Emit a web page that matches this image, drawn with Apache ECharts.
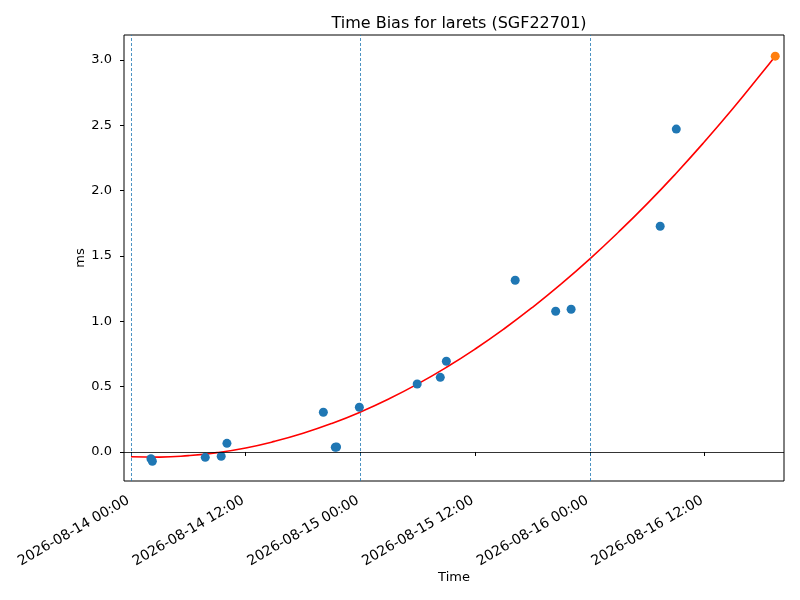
<!DOCTYPE html>
<html>
<head>
<meta charset="utf-8">
<title>Time Bias</title>
<script src="https://cdn.jsdelivr.net/npm/echarts@6.0.0/dist/echarts.min.js"></script>
<style>
	html, body { margin: 0; padding: 0; background: #fff; }
	#chart { width: 800px; height: 600px; }
</style>
</head>
<body>
<div id="chart"></div>
<script>
// measured time bias points (UTC)
var obsTimes = [
	'2026-08-14 02:05', '2026-08-14 02:14', '2026-08-14 07:46', '2026-08-14 09:26',
	'2026-08-14 10:02', '2026-08-14 20:07', '2026-08-14 21:22', '2026-08-14 21:30',
	'2026-08-14 23:53', '2026-08-15 05:56', '2026-08-15 08:21', '2026-08-15 08:59',
	'2026-08-15 16:11', '2026-08-15 20:25', '2026-08-15 22:02', '2026-08-16 07:21',
	'2026-08-16 09:02'
]
var obsBias = [
	-0.051, -0.071, -0.041, -0.033,
	0.066, 0.304, 0.036, 0.038,
	0.342, 0.520, 0.571, 0.694,
	1.314, 1.077, 1.092, 1.727,
	2.470
]
// last (predicted) point
var predTime = ['2026-08-16 19:23']
var predBias = [3.028]
// fitted curve, every 3 hours
var fitTimes = [
	'2026-08-14 00:00', '2026-08-14 03:00', '2026-08-14 06:00', '2026-08-14 09:00',
	'2026-08-14 12:00', '2026-08-14 15:00', '2026-08-14 18:00', '2026-08-14 21:00',
	'2026-08-15 00:00', '2026-08-15 03:00', '2026-08-15 06:00', '2026-08-15 09:00',
	'2026-08-15 12:00', '2026-08-15 15:00', '2026-08-15 18:00', '2026-08-15 21:00',
	'2026-08-16 00:00', '2026-08-16 03:00', '2026-08-16 06:00', '2026-08-16 09:00',
	'2026-08-16 12:00', '2026-08-16 15:00', '2026-08-16 18:00', '2026-08-16 19:23'
]
var fitBias = [
	-0.036, -0.039, -0.028, -0.005,
	0.031, 0.081, 0.143, 0.218,
	0.306, 0.407, 0.521, 0.648,
	0.788, 0.941, 1.107, 1.286,
	1.478, 1.683, 1.900, 2.131,
	2.375, 2.631, 2.901, 3.028
]
var xTickLabels = [
	'2026-08-14 00:00', '2026-08-14 12:00', '2026-08-15 00:00',
	'2026-08-15 12:00', '2026-08-16 00:00', '2026-08-16 12:00'
]
var dayLines = ['2026-08-14 00:00', '2026-08-15 00:00', '2026-08-16 00:00']
var yTicks = [0, 0.5, 1.0, 1.5, 2.0, 2.5, 3.0]

function toMs(s) {
	var p = s.split(/[- :]/).map(Number)
	return Date.UTC(p[0], p[1] - 1, p[2], p[3], p[4])
}
function pad(n) {
	return (n < 10 ? '0' : '') + n
}
function fmt(v) {
	var d = new Date(v)
	return d.getUTCFullYear() + '-' + pad(d.getUTCMonth() + 1) + '-' + pad(d.getUTCDate()) +
		' ' + pad(d.getUTCHours()) + ':' + pad(d.getUTCMinutes())
}
function pairs(ts, vs) {
	return ts.map(function(t, i) { return [toMs(t), vs[i]] })
}

var font = 'DejaVu Sans'
var option = {
	animation: false,
	backgroundColor: '#fff',
	title: {
		text: 'Time Bias for larets (SGF22701)',
		left: 454,
		top: 11,
		textAlign: 'center',
		textStyle: { fontFamily: font, fontSize: 16, fontWeight: 'normal', color: '#000' }
	},
	grid: {
		left: 124,
		right: 16,
		top: 35,
		bottom: 119,
		show: true,
		borderColor: '#000',
		borderWidth: 1,
		backgroundColor: 'transparent'
	},
	xAxis: {
		type: 'value',
		min: toMs('2026-08-13 23:16'),
		max: toMs('2026-08-16 20:18'),
		name: 'Time',
		nameLocation: 'middle',
		nameGap: 90,
		nameMoveOverlap: false,
		nameTextStyle: { fontFamily: font, fontSize: 13, color: '#000' },
		axisLine: { show: false },
		splitLine: { show: false },
		axisTick: {
			show: true,
			length: 4,
			customValues: xTickLabels.map(toMs),
			lineStyle: { color: '#000', width: 1 }
		},
		axisLabel: {
			customValues: xTickLabels.map(toMs),
			rotate: 30,
			margin: 17,
			padding: [0, 3, 0, 0],
			fontFamily: font,
			fontSize: 14,
			color: '#000',
			formatter: fmt
		}
	},
	yAxis: {
		type: 'value',
		min: -0.222,
		max: 3.19,
		name: 'ms',
		nameLocation: 'middle',
		nameGap: 37,
		nameMoveOverlap: false,
		nameRotate: 90,
		nameTextStyle: { fontFamily: font, fontSize: 13, color: '#000' },
		axisLine: { show: false },
		splitLine: { show: false },
		axisTick: {
			show: true,
			length: 4,
			customValues: yTicks,
			lineStyle: { color: '#000', width: 1 }
		},
		axisLabel: {
			customValues: yTicks,
			margin: 12,
			fontFamily: font,
			fontSize: 13,
			color: '#000',
			formatter: function(v) { return v.toFixed(1) }
		}
	},
	series: [
		{
			name: 'guides',
			type: 'line',
			data: [],
			silent: true,
			markLine: {
				symbol: ['none', 'none'],
				silent: true,
				label: { show: false },
				animation: false,
				data: dayLines.map(function(t) {
					return { xAxis: toMs(t), lineStyle: { color: '#1f77b4', type: [3, 2], width: 0.8 } }
				}).concat([
					{ yAxis: 0, lineStyle: { color: '#000', type: 'solid', width: 0.8 } }
				])
			}
		},
		{
			name: 'fit',
			type: 'line',
			smooth: true,
			showSymbol: false,
			data: pairs(fitTimes, fitBias),
			lineStyle: { color: '#ff0000', width: 1.6 },
			z: 3
		},
		{
			name: 'obs',
			type: 'scatter',
			symbolSize: 9,
			data: pairs(obsTimes, obsBias),
			itemStyle: { color: '#1f77b4', opacity: 1 },
			z: 4
		},
		{
			name: 'pred',
			type: 'scatter',
			symbolSize: 9,
			data: pairs(predTime, predBias),
			itemStyle: { color: '#ff7f0e', opacity: 1 },
			z: 5
		}
	]
}

var myChart = echarts.init(document.getElementById('chart'))
myChart.setOption(option)
</script>
</body>
</html>
